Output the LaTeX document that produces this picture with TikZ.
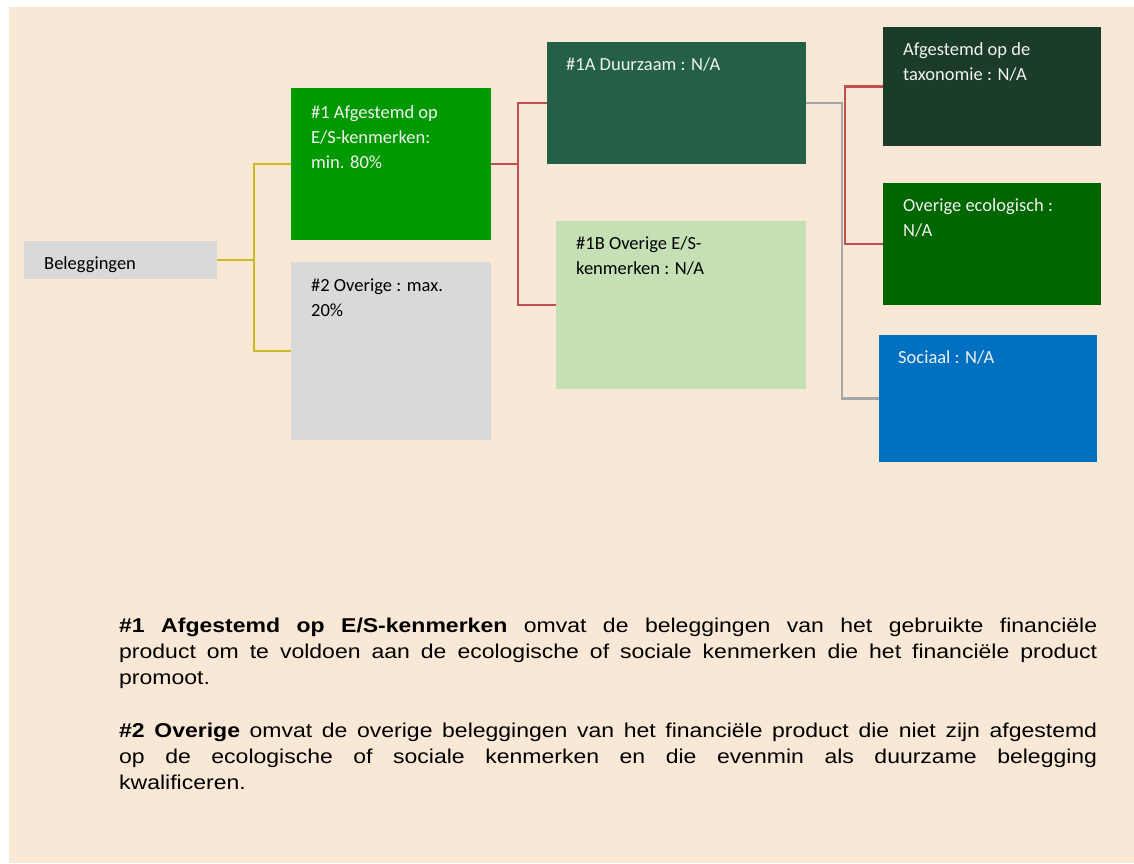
\documentclass[tikz,border=0pt]{standalone}
\usepackage{fontspec}
\setmainfont{Carlito}
\newfontfamily\notefont{Liberation Sans}[FakeStretch=1.15]
\usepackage{tikz}
\usetikzlibrary{calc}
\definecolor{bgbeige}{HTML}{FAE8D7}
\definecolor{boxgray}{HTML}{D9D9D9}
\definecolor{esgreen}{HTML}{009900}
\definecolor{sustgreen}{HTML}{236045}
\definecolor{paleGreen}{HTML}{C5E0B4}
\definecolor{taxgreen}{HTML}{1A3C28}
\definecolor{ecogreen}{HTML}{006600}
\definecolor{socblue}{HTML}{0070C0}
\definecolor{lineyellow}{HTML}{CCBB22}
\definecolor{linered}{HTML}{C0504D}
\definecolor{linegray}{HTML}{A6A6A6}
\newcommand{\tstrut}{\rule{0pt}{18pt}}
\newcommand{\nstrut}{\rule{0pt}{20pt}}

\begin{document}
\begin{tikzpicture}[x=1pt,y=-1pt,
  box/.style={anchor=north west,inner sep=0pt,outer sep=0pt},
  boxtext/.style={anchor=north west,inner sep=0pt,align=left,font=\fontsize{18.5}{25}\selectfont},
  notetext/.style={anchor=north west,inner sep=0pt,text width=978pt,align=justify,font=\notefont\fontsize{20}{26}\selectfont},
  yline/.style={draw=lineyellow,line width=2.2pt},
  rline/.style={draw=linered,line width=2.2pt},
  gline/.style={draw=linegray,line width=2.2pt}]
\useasboundingbox (0,0) rectangle (1134,863);
\fill[bgbeige] (9,7) rectangle (1134,863);

\node[box,fill=boxgray,minimum width=193pt,minimum height=38pt] (bel) at (24,241) {};
\node[box,fill=esgreen,minimum width=200pt,minimum height=152pt] (b1) at (291,88) {};
\node[box,fill=boxgray,minimum width=200pt,minimum height=178pt] (b2) at (291,262) {};
\node[box,fill=sustgreen,minimum width=259pt,minimum height=122pt] (a1) at (547,42) {};
\node[box,fill=paleGreen,minimum width=250pt,minimum height=168pt] (o1) at (556,221) {};
\node[box,fill=taxgreen,minimum width=218pt,minimum height=119pt] (tax) at (883,27) {};
\node[box,fill=ecogreen,minimum width=218pt,minimum height=122pt] (eco) at (883,183) {};
\node[box,fill=socblue,minimum width=218pt,minimum height=127pt] (soc) at (879,335) {};

\node[boxtext,text=black] (belt) at ($(bel.north west)+(20,10)$) {\tstrut Beleggingen};
\node[boxtext,text=white!95!black] (b1t) at ($(b1.north west)+(20,12)$) {\tstrut\#1 Afgestemd op\\E/S-kenmerken:\\min. 80\%};
\node[boxtext,text=black] (b2t) at ($(b2.north west)+(20,11)$) {\tstrut\#2 Overige : max.\\20\%};
\node[boxtext,text=white!95!black] (a1t) at ($(a1.north west)+(19,10)$) {\tstrut\#1A Duurzaam : N/A};
\node[boxtext,text=black] (o1t) at ($(o1.north west)+(20,10)$) {\tstrut\#1B Overige E/S-\\kenmerken : N/A};
\node[boxtext,text=white!95!black] (taxt) at ($(tax.north west)+(20,10)$) {\tstrut Afgestemd op de\\taxonomie : N/A};
\node[boxtext,text=white!95!black] (ecot) at ($(eco.north west)+(20,10)$) {\tstrut Overige ecologisch :\\N/A};
\node[boxtext,text=white!95!black] (soct) at ($(soc.north west)+(19,10)$) {\tstrut Sociaal : N/A};

\draw[yline] (bel.east) -- ++(37,0) |- (b1.west);
\draw[yline] (bel.east) -- ++(37,0) |- (b2.west);
\draw[rline] (b1.east) -- ++(27,0) |- (a1.west);
\draw[rline] (b1.east) -- ++(27,0) |- (o1.west);
\draw[gline] (a1.east) -- ++(36,0) |- (soc.west);
\coordinate (rj) at ($(a1.east)+(39,0)$);
\draw[rline] (tax.west) -| (rj) |- (eco.west);

\node[notetext] (note) at (119,612) {\noindent\nstrut\textbf{\#1 Afgestemd op E/S-kenmerken} omvat de beleggingen van het gebruikte financiële\linebreak product om te voldoen aan de ecologische of sociale kenmerken die het financiële product\linebreak promoot.\par\vspace{27pt}
\noindent\textbf{\#2 Overige} omvat de overige beleggingen van het financiële product die niet zijn afgestemd\linebreak op de ecologische of sociale kenmerken en die evenmin als duurzame belegging\linebreak kwalificeren.\par};
\end{tikzpicture}
\end{document}
